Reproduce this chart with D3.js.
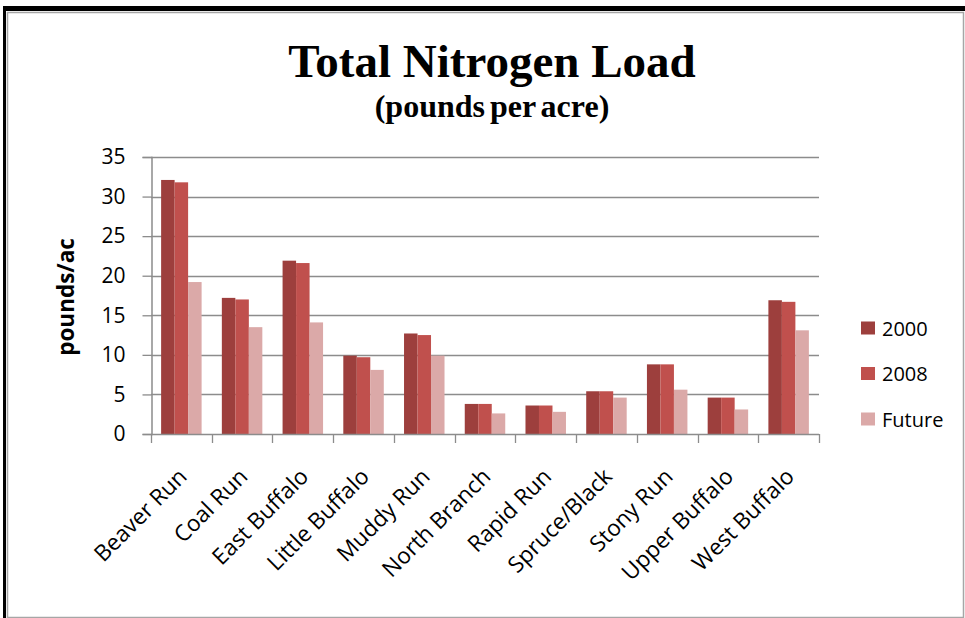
<!DOCTYPE html>
<html>
<head>
<meta charset="utf-8">
<script src="https://cdn.jsdelivr.net/npm/d3@7"></script>
<style>
  html, body { margin: 0; padding: 0; background: #fff; }
  svg { display: block; }
</style>
</head>
<body>
<div id="chart"></div>
<script>
// watersheds and loads (pounds/ac)
var categories = ['Beaver Run', 'Coal Run', 'East Buffalo', 'Little Buffalo', 'Muddy Run',
  'North Branch', 'Rapid Run', 'Spruce/Black', 'Stony Run', 'Upper Buffalo', 'West Buffalo']
var series = ['2000', '2008', 'Future']
var load2000 = [32.1, 17.2, 21.9, 9.9, 12.7, 3.8, 3.6, 5.4, 8.8, 4.6, 16.9]
var load2008 = [31.8, 17.0, 21.6, 9.7, 12.5, 3.8, 3.6, 5.4, 8.8, 4.6, 16.7]
var loadFuture = [19.2, 13.5, 14.1, 8.1, 9.9, 2.6, 2.8, 4.6, 5.6, 3.1, 13.1]
var yTicks = [0, 5, 10, 15, 20, 25, 30, 35]

var colors = ['#9d3f3d', '#c0504d', '#dba9a8']
var values = [load2000, load2008, loadFuture]

var width = 965
var height = 618
var plot = { left: 151, right: 819, top: 157, bottom: 434 }

var svg = d3.select('#chart').append('svg')
  .attr('width', width)
  .attr('height', height)

// frame round the picture
svg.append('rect').attr('x', 3).attr('y', 6).attr('width', 962).attr('height', 5).attr('fill', '#000')
svg.append('rect').attr('x', 3).attr('y', 6).attr('width', 3).attr('height', 612).attr('fill', '#000')
svg.append('path')
  .attr('d', 'M7.5,618 V12.5 H963.5 V617.5 H7.5')
  .attr('fill', 'none')
  .attr('stroke', '#a6a6a6')
  .attr('stroke-width', 1.5)

// titles
svg.append('text')
  .attr('x', 492).attr('y', 77)
  .attr('text-anchor', 'middle')
  .style('font-family', '"Liberation Serif", "Times New Roman", serif')
  .style('font-weight', 'bold')
  .style('font-size', '47px')
  .text('Total Nitrogen Load')

svg.append('text')
  .attr('x', 492).attr('y', 117)
  .attr('text-anchor', 'middle')
  .style('font-family', '"Liberation Serif", "Times New Roman", serif')
  .style('font-weight', 'bold')
  .style('font-size', '32px')
  .style('word-spacing', '-3px')
  .text('(pounds per acre)')

var x = d3.scaleBand()
  .domain(categories)
  .range([plot.left, plot.right])
  .padding(0)

var barW = x.bandwidth() / 4.5
var xs = d3.scaleBand()
  .domain(series)
  .range([barW * 0.75, x.bandwidth() - barW * 0.75])

var y = d3.scaleLinear()
  .domain([0, 35])
  .range([plot.bottom, plot.top])

// gridlines
svg.append('g')
  .selectAll('line')
  .data(yTicks.slice(1))
  .enter().append('line')
  .attr('x1', plot.left).attr('x2', plot.right)
  .attr('y1', function (d) { return Math.round(y(d)) + 0.5 })
  .attr('y2', function (d) { return Math.round(y(d)) + 0.5 })
  .attr('stroke', '#8c8c8c')
  .attr('stroke-width', 1.3)

// bars
var groups = svg.append('g')
  .selectAll('g')
  .data(series)
  .enter().append('g')
  .attr('fill', function (d, i) { return colors[i] })

groups.selectAll('rect')
  .data(function (s, i) {
    return categories.map(function (c, j) { return { cat: c, s: s, v: values[i][j] } })
  })
  .enter().append('rect')
  .attr('x', function (d) { return x(d.cat) + xs(d.s) })
  .attr('width', xs.bandwidth())
  .attr('y', function (d) { return y(d.v) })
  .attr('height', function (d) { return y(0) - y(d.v) })

// y axis
var yAxis = d3.axisLeft(y)
  .tickValues(yTicks)
  .tickSize(9)
  .tickPadding(17)

var gy = svg.append('g')
  .attr('transform', 'translate(' + (plot.left + 0.5) + ',0)')
  .call(yAxis)
gy.select('.domain').attr('stroke', '#8c8c8c').attr('stroke-width', 1.5)
gy.selectAll('.tick line').attr('stroke', '#8c8c8c').attr('stroke-width', 1.3)
gy.selectAll('.tick text')
  .style('font-family', '"Open Sans", sans-serif')
  .style('font-size', '21px')
  .attr('fill', '#000')

// x axis: ticks between the categories
svg.append('line')
  .attr('x1', plot.left).attr('x2', plot.right)
  .attr('y1', plot.bottom + 0.5).attr('y2', plot.bottom + 0.5)
  .attr('stroke', '#8c8c8c').attr('stroke-width', 1.5)

svg.append('g')
  .selectAll('line')
  .data(d3.range(categories.length + 1))
  .enter().append('line')
  .attr('x1', function (i) { return Math.round(plot.left + i * x.step()) + 0.5 })
  .attr('x2', function (i) { return Math.round(plot.left + i * x.step()) + 0.5 })
  .attr('y1', plot.bottom).attr('y2', plot.bottom + 9)
  .attr('stroke', '#8c8c8c').attr('stroke-width', 1.3)

svg.append('g')
  .selectAll('text')
  .data(categories)
  .enter().append('text')
  .attr('transform', function (d) {
    return 'translate(' + (x(d) + x.bandwidth() / 2 + 7) + ',' + (plot.bottom + 44) + ') rotate(-45)'
  })
  .attr('text-anchor', 'end')
  .style('font-family', '"Open Sans", sans-serif')
  .style('font-size', '22.5px')
  .text(function (d) { return d })

// y title
svg.append('text')
  .attr('transform', 'translate(74,297) rotate(-90)')
  .attr('text-anchor', 'middle')
  .style('font-family', '"Open Sans", sans-serif')
  .style('font-weight', 'bold')
  .style('font-size', '22.5px')
  .text('pounds/ac')

// legend
var legend = svg.append('g')
  .selectAll('g')
  .data(series)
  .enter().append('g')
  .attr('transform', function (d, i) { return 'translate(861,' + (328 + i * 45.5) + ')' })

legend.append('rect')
  .attr('x', 0).attr('y', -6.5)
  .attr('width', 14).attr('height', 13)
  .attr('fill', function (d, i) { return colors[i] })

legend.append('text')
  .attr('x', 21).attr('y', 7.5)
  .style('font-family', '"Open Sans", sans-serif')
  .style('font-size', '20px')
  .text(function (d) { return d })
</script>
</body>
</html>
